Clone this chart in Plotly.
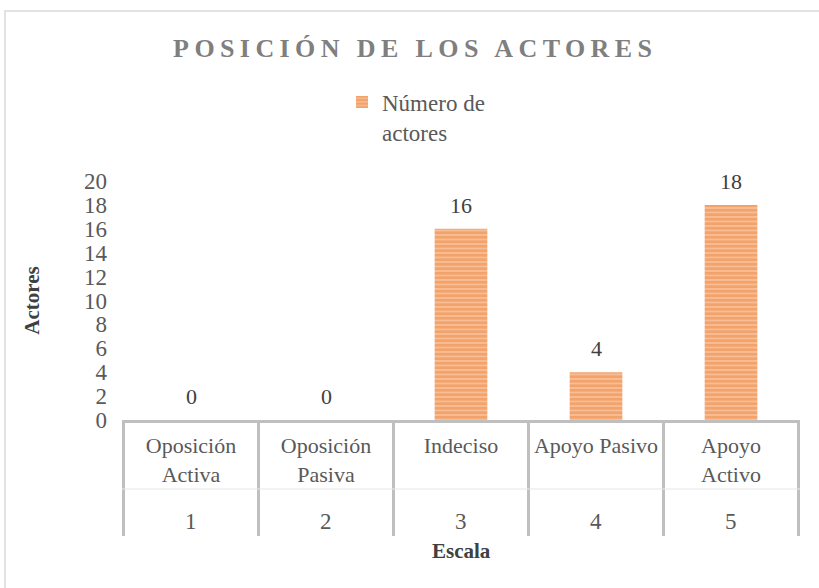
import plotly.graph_objects as go

escala = ["1", "2", "3", "4", "5"]
categorias = ["Oposición<br>Activa", "Oposición<br>Pasiva", "Indeciso", "Apoyo Pasivo", "Apoyo<br>Activo"]
actores = [0, 0, 16, 4, 18]
y_ticks = list(range(0, 21, 2))

FONT = "Liberation Serif"
ORANGE = "#ED7D31"
GRAY_LINE = "#BFBFBF"

fig = go.Figure()
fig.add_trace(go.Bar(
    x=categorias,
    y=actores,
    name="Número de<br>actores",
    width=0.39,
    marker=dict(
        color="#F09458",
        line=dict(width=0),
        pattern=dict(shape="-", fgcolor=ORANGE, bgcolor="#F8C6A2", size=4.5, solidity=0.7),
    ),
    cliponaxis=False,
))

annotations = []
# data labels
for c, v in zip(categorias, actores):
    annotations.append(dict(x=c, y=v, xref="x", yref="y", text=str(v), showarrow=False,
                            yanchor="bottom", yshift=9,
                            font=dict(family=FONT, size=22, color="#404040")))
# outer category level
for c, e in zip(categorias, escala):
    annotations.append(dict(x=c, y=0, xref="x", yref="paper", text=e, showarrow=False,
                            yanchor="middle", yshift=-101,
                            font=dict(family=FONT, size=23, color="#595959")))
# axis titles
annotations.append(dict(x=0.501, y=0, xref="paper", yref="paper", text="<b>Escala</b>",
                        showarrow=False, yanchor="middle", yshift=-131,
                        font=dict(family=FONT, size=21, color="#404040")))
annotations.append(dict(x=-0.134, y=0.5, xref="paper", yref="paper", text="<b>Actores</b>",
                        showarrow=False, textangle=-90, xanchor="center", yanchor="middle",
                        font=dict(family=FONT, size=21, color="#404040")))

shapes = [dict(type="rect", xref="paper", yref="paper",
               x0=-0.1726, x1=1.1, y0=-0.75, y1=1.711,
               line=dict(color="#D9D9D9", width=1.5), layer="below")]
# table dividers (vertical) at category boundaries
for k in range(len(categorias) + 1):
    shapes.append(dict(type="line", xref="x", yref="paper", x0=k - 0.5, x1=k - 0.5,
                       ysizemode="pixel", yanchor=0, y0=0, y1=-116,
                       line=dict(color=GRAY_LINE, width=3)))
# faint divider between levels
shapes.append(dict(type="line", xref="paper", yref="paper", x0=0, x1=1,
                   ysizemode="pixel", yanchor=0, y0=-69, y1=-69,
                   line=dict(color="#E6E6E6", width=1)))

fig.update_layout(
    width=819, height=588,
    paper_bgcolor="white", plot_bgcolor="white",
    margin=dict(l=122, r=19, t=181, b=168, autoexpand=False),
    font=dict(family=FONT, size=23, color="#595959"),
    title=dict(
        text='<span style="letter-spacing:5.4px"><b>POSICIÓN DE LOS ACTORES</b></span>',
        x=0.507, xanchor="center", y=0.918, yanchor="middle",
        font=dict(family=FONT, size=26, color="#7F7F7F"),
    ),
    showlegend=True,
    legend=dict(
        x=0.3245, xanchor="left", y=1.268, yanchor="middle", valign="top",
        font=dict(family=FONT, size=23, color="#595959"),
        bgcolor="rgba(0,0,0,0)",
    ),
    annotations=annotations,
    shapes=shapes,
)
fig.update_xaxes(
    type="category",
    showline=True, linecolor=GRAY_LINE, linewidth=3,
    showgrid=False, ticks="", ticklabelstandoff=4,
    tickfont=dict(family=FONT, size=22, color="#595959"),
)
fig.update_yaxes(
    range=[0, 20], tickvals=y_ticks, showgrid=False, zeroline=False, showline=False,
    ticks="", ticklabelstandoff=14,
    tickfont=dict(family=FONT, size=23, color="#595959"),
)

fig.write_html("out.html", config={"displayModeBar": False},
               post_script="document.body.style.margin='0';")
